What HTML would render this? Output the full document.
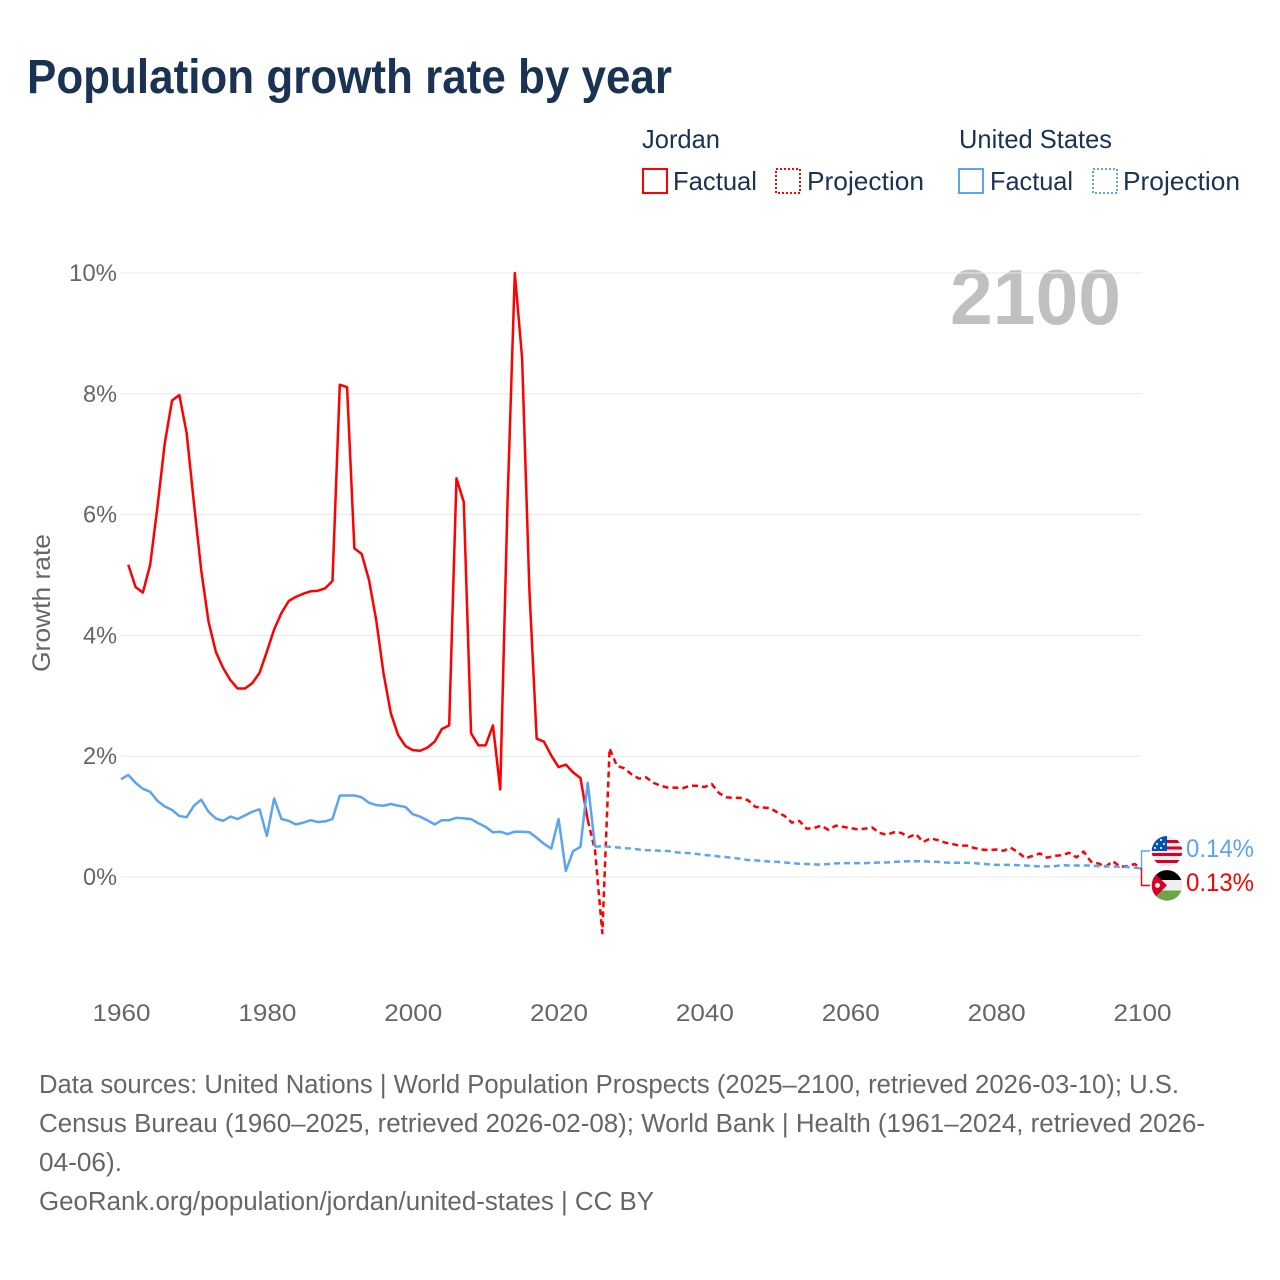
<!DOCTYPE html>
<html lang="en">
<head>
<meta charset="utf-8">
<title>Population growth rate by year</title>
<style>
html,body{margin:0;padding:0;background:#fff;}
svg{display:block;font-family:"Liberation Sans",sans-serif;}
</style>
</head>
<body>
<svg id="chart" width="1280" height="1280" viewBox="0 0 1280 1280" xmlns="http://www.w3.org/2000/svg">
  <defs>
    <clipPath id="clip-us"><circle cx="1167" cy="851.3" r="15.3"/></clipPath>
    <clipPath id="clip-jo"><circle cx="1167" cy="885.4" r="15.3"/></clipPath>
  </defs>
  <rect width="1280" height="1280" fill="#fff"/>
  <text x="27" y="93" font-size="48" font-weight="700" fill="#1a3352" textLength="645" lengthAdjust="spacingAndGlyphs">Population growth rate by year</text>

  <g font-size="26" fill="#1a3352">
    <text x="642" y="148" textLength="78" lengthAdjust="spacingAndGlyphs">Jordan</text>
    <rect x="643" y="169" width="24" height="24" fill="none" stroke="#ff0000" stroke-width="2"/>
    <text x="673" y="190" textLength="84" lengthAdjust="spacingAndGlyphs">Factual</text>
    <rect x="776" y="169" width="24" height="24" fill="none" stroke="#ff0000" stroke-width="2" stroke-dasharray="2 2"/>
    <text x="807" y="190" textLength="117" lengthAdjust="spacingAndGlyphs">Projection</text>
    <text x="959" y="148" textLength="153" lengthAdjust="spacingAndGlyphs">United States</text>
    <rect x="959" y="169" width="24" height="24" fill="none" stroke="#5ba4ee" stroke-width="2"/>
    <text x="990" y="190" textLength="83" lengthAdjust="spacingAndGlyphs">Factual</text>
    <rect x="1093" y="169" width="24" height="24" fill="none" stroke="#5ba4ee" stroke-width="2" stroke-dasharray="2 2"/>
    <text x="1123" y="190" textLength="117" lengthAdjust="spacingAndGlyphs">Projection</text>
  </g>

  <text x="1121" y="324" text-anchor="end" font-size="78" font-weight="700" fill="#c0c0c0" textLength="171" lengthAdjust="spacingAndGlyphs">2100</text>
  <text transform="translate(50,672) rotate(-90)" font-size="25" fill="#666666" textLength="138" lengthAdjust="spacingAndGlyphs">Growth rate</text>

  <g id="grid"></g>
  <g id="yticks" font-size="24" fill="#666666" text-anchor="end"></g>
  <g id="xticks" font-size="24" fill="#666666" text-anchor="middle"></g>
  <g id="series" fill="none" stroke-width="2.5" stroke-linejoin="round"></g>
  <g id="brackets" fill="none" stroke-width="1.4"></g>

  <g clip-path="url(#clip-us)">
    <rect x="1151" y="835" width="32" height="32" fill="#eeeeee"/>
    <rect x="1151" y="840" width="32" height="3" fill="#d80027"/>
    <rect x="1151" y="846.5" width="32" height="3" fill="#d80027"/>
    <rect x="1151" y="853" width="32" height="3" fill="#d80027"/>
    <rect x="1151" y="860" width="32" height="3" fill="#d80027"/>
    <rect x="1151" y="835" width="16" height="16" fill="#0052b4"/>
    <g fill="#eeeeee">
      <circle cx="1161" cy="840" r="1.1"/>
      <circle cx="1157" cy="844" r="1.1"/><circle cx="1164" cy="844" r="1.1"/>
      <circle cx="1155" cy="848" r="1.1"/><circle cx="1161" cy="848" r="1.1"/>
    </g>
  </g>
  <g clip-path="url(#clip-jo)">
    <rect x="1151" y="870" width="32" height="10.5" fill="#000000"/>
    <rect x="1151" y="880" width="32" height="11" fill="#eeeeee"/>
    <rect x="1151" y="890.5" width="32" height="11" fill="#6da544"/>
    <polygon points="1151,869.5 1167,885.4 1151,901.5" fill="#d80027"/>
    <circle cx="1157.5" cy="885.4" r="2.5" fill="#eeeeee"/>
  </g>

  <text x="1186" y="857" font-size="25" fill="#5ba4ee" textLength="68" lengthAdjust="spacingAndGlyphs">0.14%</text>
  <text x="1186" y="891" font-size="25" fill="#ff0000" textLength="68" lengthAdjust="spacingAndGlyphs">0.13%</text>

  <g font-size="25.5" fill="#666666">
    <text x="39" y="1093" textLength="1140" lengthAdjust="spacingAndGlyphs">Data sources: United Nations | World Population Prospects (2025–2100, retrieved 2026-03-10); U.S.</text>
    <text x="39" y="1132" textLength="1166" lengthAdjust="spacingAndGlyphs">Census Bureau (1960–2025, retrieved 2026-02-08); World Bank | Health (1961–2024, retrieved 2026-</text>
    <text x="39" y="1171" textLength="83" lengthAdjust="spacingAndGlyphs">04-06).</text>
    <text x="39" y="1210" textLength="615" lengthAdjust="spacingAndGlyphs">GeoRank.org/population/jordan/united-states | CC BY</text>
  </g>
</svg>
<script>
var yTicks = [0, 2, 4, 6, 8, 10];
var yTickLabels = ["0%", "2%", "4%", "6%", "8%", "10%"];
var xTicks = [1960, 1980, 2000, 2020, 2040, 2060, 2080, 2100];
var xTickLabels = ["1960", "1980", "2000", "2020", "2040", "2060", "2080", "2100"];

var jordanFactualStart = 1961;
var jordanFactual = [
  5.17, 4.80, 4.71, 5.17, 6.13, 7.18, 7.89, 7.98, 7.35,
  6.19, 5.08, 4.23, 3.73, 3.46, 3.26, 3.12, 3.12, 3.21, 3.38,
  3.73, 4.10, 4.37, 4.57, 4.64, 4.69, 4.73, 4.74, 4.78, 4.90,
  8.15, 8.11, 5.44, 5.35, 4.92, 4.25, 3.37, 2.71, 2.35, 2.17,
  2.10, 2.09, 2.14, 2.24, 2.45, 2.51, 6.60, 6.21, 2.38, 2.18,
  2.18, 2.51, 1.45, 6.20, 10.00, 8.59, 4.75, 2.29, 2.24, 2.01,
  1.82, 1.86, 1.73, 1.64, 0.94
];
var jordanProjectionStart = 2024;
var jordanProjection = [
  0.94, 0.44, -0.93, 2.13, 1.84, 1.80,
  1.70, 1.63, 1.65, 1.56, 1.51, 1.48, 1.48, 1.47, 1.51, 1.51,
  1.49, 1.54, 1.39, 1.32, 1.31, 1.31, 1.27, 1.16, 1.15, 1.14,
  1.07, 1.01, 0.90, 0.93, 0.80, 0.81, 0.85, 0.78, 0.85, 0.83,
  0.81, 0.79, 0.80, 0.82, 0.73, 0.70, 0.74, 0.73, 0.66, 0.71,
  0.58, 0.64, 0.61, 0.57, 0.545, 0.52, 0.52, 0.48, 0.455, 0.445,
  0.455, 0.435, 0.485, 0.41, 0.31, 0.35, 0.39, 0.32, 0.35, 0.36,
  0.40, 0.325, 0.42, 0.255, 0.225, 0.17, 0.26, 0.17, 0.18, 0.215,
  0.13
];
var usFactualStart = 1960;
var usFactual = [
  1.62, 1.69, 1.56, 1.46, 1.41, 1.26, 1.17, 1.11, 1.01, 0.99,
  1.18, 1.28, 1.08, 0.97, 0.93, 1.00, 0.96, 1.02, 1.08, 1.12,
  0.68, 1.30, 0.96, 0.93, 0.87, 0.90, 0.94, 0.91, 0.92, 0.96,
  1.35, 1.35, 1.35, 1.32, 1.23, 1.19, 1.18, 1.21, 1.18, 1.16,
  1.04, 1.00, 0.94, 0.87, 0.94, 0.94, 0.98, 0.97, 0.96, 0.89,
  0.83, 0.74, 0.75, 0.71, 0.75, 0.75, 0.74, 0.65, 0.55, 0.47,
  0.96, 0.10, 0.43, 0.50, 1.56, 0.50
];
var usProjectionStart = 2025;
var usProjection = [
  0.50, 0.51, 0.50, 0.49, 0.48,
  0.47, 0.455, 0.445, 0.44, 0.435, 0.43, 0.41, 0.40, 0.395, 0.38,
  0.365, 0.355, 0.34, 0.33, 0.315, 0.30, 0.28, 0.275, 0.265, 0.255,
  0.25, 0.24, 0.23, 0.22, 0.215, 0.21, 0.205, 0.215, 0.225, 0.23,
  0.23, 0.23, 0.23, 0.235, 0.24, 0.24, 0.25, 0.255, 0.26, 0.26,
  0.26, 0.255, 0.25, 0.24, 0.235, 0.235, 0.235, 0.23, 0.22, 0.21,
  0.20, 0.20, 0.20, 0.195, 0.19, 0.18, 0.175, 0.175, 0.18, 0.195,
  0.19, 0.19, 0.19, 0.19, 0.18, 0.18, 0.175, 0.17, 0.165, 0.155,
  0.14
];

var SVG_NS = "http://www.w3.org/2000/svg";
var plotLeft = 121, plotRight = 1142, plotTop = 273, plotZero = 877;
function xScale(year) { return plotLeft + (year - 1960) * (plotRight - plotLeft) / 140; }
function yScale(value) { return plotZero - value * (plotZero - plotTop) / 10; }

function makeNode(tag, parentId) {
  var el = document.createElementNS(SVG_NS, tag);
  document.getElementById(parentId).appendChild(el);
  return el;
}

yTicks.forEach(function (tick, i) {
  var line = makeNode("line", "grid");
  
  
  line.setAttribute("x1", plotLeft);
  line.setAttribute("x2", plotRight);
  line.setAttribute("y1", yScale(tick));
  line.setAttribute("y2", yScale(tick));
  line.setAttribute("stroke", "#e8e8e8");
  line.setAttribute("stroke-width", "1");

  var label = makeNode("text", "yticks");
  
  
  label.setAttribute("x", 117);
  label.setAttribute("y", yScale(tick) + 8);
  label.setAttribute("textLength", yTickLabels[i].length === 3 ? 48 : 34);
  label.setAttribute("lengthAdjust", "spacingAndGlyphs");
  label.textContent = yTickLabels[i];
});

xTicks.forEach(function (tick, i) {
  var label = makeNode("text", "xticks");
  
  
  label.setAttribute("x", xScale(tick) + 0.5);
  label.setAttribute("y", 1021);
  label.setAttribute("textLength", 58);
  label.setAttribute("lengthAdjust", "spacingAndGlyphs");
  label.textContent = xTickLabels[i];
});

function pathFor(values, startYear) {
  return values.map(function (v, i) {
    return (i ? "L" : "M") + xScale(startYear + i).toFixed(2) + " " + yScale(v).toFixed(2);
  }).join(" ");
}

var jordanProjectionPath = makeNode("path", "series");


jordanProjectionPath.setAttribute("d", pathFor(jordanProjection, jordanProjectionStart));
jordanProjectionPath.setAttribute("stroke", "#ff0000");
jordanProjectionPath.setAttribute("stroke-dasharray", "6 4");

var jordanFactualPath = makeNode("path", "series");


jordanFactualPath.setAttribute("d", pathFor(jordanFactual, jordanFactualStart));
jordanFactualPath.setAttribute("stroke", "#ff0000");

var usProjectionPath = makeNode("path", "series");


usProjectionPath.setAttribute("d", pathFor(usProjection, usProjectionStart));
usProjectionPath.setAttribute("stroke", "#5ba4ee");
usProjectionPath.setAttribute("stroke-dasharray", "6 4");

var usFactualPath = makeNode("path", "series");


usFactualPath.setAttribute("d", pathFor(usFactual, usFactualStart));
usFactualPath.setAttribute("stroke", "#5ba4ee");

var usBracket = makeNode("path", "brackets");


usBracket.setAttribute("d", "M" + (plotRight - 0.5) + " " + yScale(usProjection[usProjection.length - 1]) + " V851 H1150");
usBracket.setAttribute("stroke", "#5ba4ee");

var jordanBracket = makeNode("path", "brackets");


jordanBracket.setAttribute("d", "M" + (plotRight - 0.5) + " " + yScale(jordanProjection[jordanProjection.length - 1]) + " V885.5 H1150");
jordanBracket.setAttribute("stroke", "#ff0000");
</script>
</body>
</html>
